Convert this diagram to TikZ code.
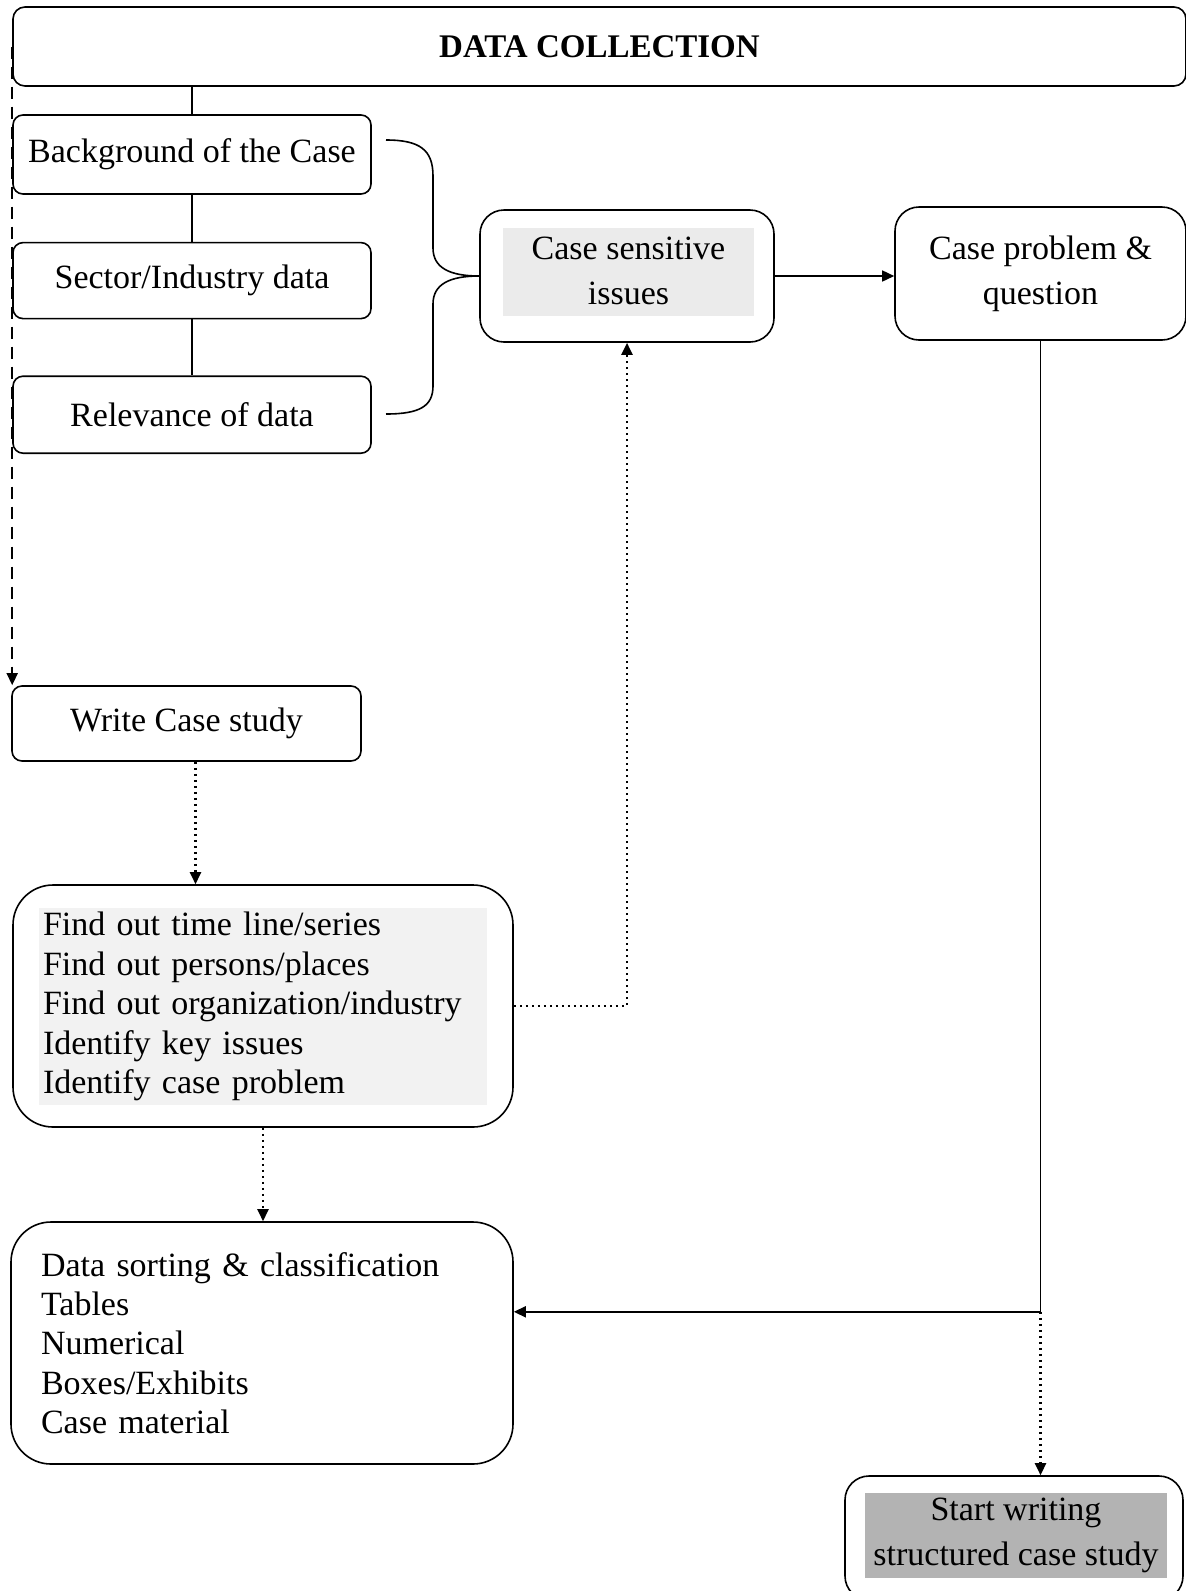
\documentclass[tikz,border=0pt]{standalone}
\usepackage{fontspec}
\setmainfont{Liberation Serif}
\usepackage{tikz}
\usetikzlibrary{arrows.meta,positioning,calc}
\definecolor{SoftGray}{HTML}{EBEBEB}
\definecolor{PaleGray}{HTML}{F2F2F2}
\definecolor{DarkGray}{HTML}{B3B3B3}
\tikzset{
  cs/box/.style={draw, line width=0.8pt, rounded corners=5pt, align=center, inner sep=0pt, font=\fontsize{17}{22.5}\selectfont},
  cs/bigbox/.style={cs/box, rounded corners=20pt},
  cs/midbox/.style={cs/box, rounded corners=12pt},
  cs/shade/.style={inner sep=0pt, align=center, font=\fontsize{17}{22.5}\selectfont},
  cs/list/.style={inner xsep=2pt, inner ysep=0pt, align=left, font=\fontsize{17}{19.8}\selectfont},
  cs/line/.style={line width=0.8pt},
  cs/arr/.style={line width=0.8pt, -{Triangle[length=6pt,width=5.5pt]}},
  cs/dotarr/.style={cs/arr, line width=1.2pt, dash pattern=on 1.2pt off 1.8pt},
  cs/dasharr/.style={cs/arr, dash pattern=on 6pt off 4pt}
}

\begin{document}
\begin{tikzpicture}[x=0.5pt, y=-0.5pt]
  \fill[white] (0,0) rectangle (1186,1591);
  \useasboundingbox (0,0) rectangle (1186,1591);

  % data collection column
  \node[cs/box, rounded corners=6pt, minimum width=586.5pt, minimum height=39.5pt, font=\bfseries\fontsize{16.5}{20}\selectfont] (title) at (599.5,46.5) {DATA COLLECTION};
  \node[cs/box, minimum width=179pt, minimum height=39.5pt] (bg) at (192,154.5) {Background of the Case};
  \node[cs/box, minimum width=179pt, minimum height=38pt, below=23.5pt of bg] (sector) {Sector/Industry data};
  \node[cs/box, minimum width=179pt, minimum height=38.5pt, below=28pt of sector] (relev) {Relevance of data};

  % issues and problem
  \node[cs/midbox, minimum width=147pt, minimum height=66pt] (sens) at (627,276) {};
  \node[cs/shade, fill=SoftGray, minimum width=125.5pt, minimum height=44pt, text depth=1pt] (senstext) at (628.5,272) {Case sensitive\\issues};
  \node[cs/midbox, minimum width=145.5pt, minimum height=66.5pt, text depth=3pt] (prob) at (1040.5,273.5) {Case problem \&\\question};

  % writing steps
  \node[cs/box, minimum width=174.5pt, minimum height=37.5pt] (write) at (186.5,723.5) {Write Case study};
  \node[cs/bigbox, minimum width=250pt, minimum height=121pt] (find) at (263,1006) {};
  \node[cs/list, fill=PaleGray, text width=220pt, minimum height=98.5pt] (findtext) at (263,1006.5)
    {Find out time line/series\\Find out persons/places\\Find out organization/industry\\Identify key issues\\Identify case problem};
  \node[cs/bigbox, minimum width=251pt, minimum height=121pt, inner xsep=15pt, text width=221pt, align=left, font=\fontsize{17}{19.7}\selectfont] (sort) at (262,1343)
    {Data sorting \& classification\\Tables\\Numerical\\Boxes/Exhibits\\Case material};
  \node[cs/midbox, minimum width=169pt, minimum height=62pt] (start) at (1014,1538) {};
  \node[cs/shade, fill=DarkGray, minimum width=151pt, minimum height=42.5pt] (starttext) at (1016,1535.5) {Start writing\\structured case study};

  \coordinate (bracetop) at (386,140);
  \coordinate (bracebot) at (386,414);
  \coordinate (turn) at ([yshift=-485.5pt]prob.south);

  \draw[cs/line] (bg.north) -- (bg.north |- title.south);
  \draw[cs/line] (bg) -- (sector);
  \draw[cs/line] (sector) -- (relev);

  % brace into the issues box
  \draw[cs/line] (bracetop) .. controls (420,140) and (433,150) .. (433,176) -- (433,248) .. controls (433,268) and (450,276) .. (sens.west);
  \draw[cs/line] (sens.west) .. controls (450,276) and (433,284) .. (433,304) -- (433,386) .. controls (433,406) and (420,414) .. (bracebot);

  \draw[cs/arr] (sens.east) -- (prob.west |- sens.east);
  \draw[cs/arr] (prob.south) -- (turn) -- (turn -| sort.east);
  \draw[cs/dotarr] (turn) -- (turn |- start.north);

  \draw[cs/dasharr] (title.west) -- (title.west |- write.north);
  \draw[cs/dotarr] ([xshift=4.5pt]write.south) -- ([xshift=4.5pt]write.south |- find.north);
  \draw[cs/dotarr] (find.south) -- (find.south |- sort.north);
  \draw[cs/dotarr] (find.east) -| (sens.south);
\end{tikzpicture}
\end{document}
